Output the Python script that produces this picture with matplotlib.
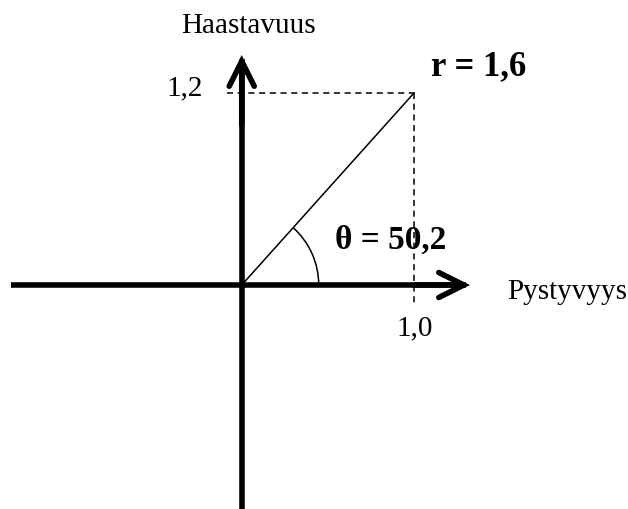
import numpy as np
import matplotlib.pyplot as plt
from matplotlib.patches import Arc

# values shown in the sketch
x_value = 1.0          # Pystyvyys
y_value = 1.2          # Haastavuus
r_value = 1.6
theta_value = 50.2     # degrees
x_label = 'Pystyvyys'
y_label = 'Haastavuus'
x_tick = '1,0'
y_tick = '1,2'
r_text = 'r = 1,6'
theta_text = 'θ = 50,2'

plt.rcParams['font.family'] = ['Liberation Serif', 'DejaVu Serif']

fig = plt.figure(figsize=(6.28, 5.10), dpi=100)
ax = fig.add_axes([0, 0, 1, 1])
ax.set_xlim(-1.403, 2.242)
ax.set_ylim(-1.4, 1.7875)
ax.axis('off')

# axis shafts (square ends) + open arrow heads
ax.plot([-1.339, 1.30], [0, 0], lw=4, color='black', solid_capstyle='butt')
ax.plot([0, 0], [-1.45, 1.41], lw=4, color='black', solid_capstyle='butt')
arrow = dict(arrowstyle='->,head_length=0.9,head_width=0.45', lw=4, color='black',
             mutation_scale=20, shrinkA=0, shrinkB=0, joinstyle='miter')
ax.annotate('', xy=(1.325, 0), xytext=(1.0, 0), arrowprops=arrow)
ax.annotate('', xy=(0, 1.4375), xytext=(0, 1.0), arrowprops=arrow)

# dashed guides to the point
ax.plot([-0.085, x_value], [y_value, y_value], ls=(0, (4, 3)), lw=1.1, color='black')
ax.plot([x_value, x_value], [y_value, -0.119], ls=(0, (4, 3)), lw=1.1, color='black')

# vector from origin
ax.plot([0, x_value], [0, y_value], lw=1.1, color='black')

# angle arc
ang = np.degrees(np.arctan2(y_value, x_value))
ax.add_patch(Arc((0, 0), 2 * 77 / 172.3, 2 * 77 / 160, theta1=0, theta2=ang,
                 lw=1.1, color='black'))

# texts
ax.text(0.037, 1.581, y_label, fontsize=21, ha='center', va='baseline')
ax.text(-0.225, 1.194, y_tick, fontsize=21, ha='right', va='baseline')
ax.text(1.099, 1.319, r_text, fontsize=25, fontweight='bold', ha='left', va='baseline')
ax.text(0.541, 0.231, theta_text, fontsize=24, fontweight='bold', ha='left', va='baseline')
ax.text(1.540, -0.081, x_label, fontsize=21, ha='left', va='baseline')
ax.text(1.006, -0.306, x_tick, fontsize=21, ha='center', va='baseline')

fig.savefig('out.png', dpi=100)
